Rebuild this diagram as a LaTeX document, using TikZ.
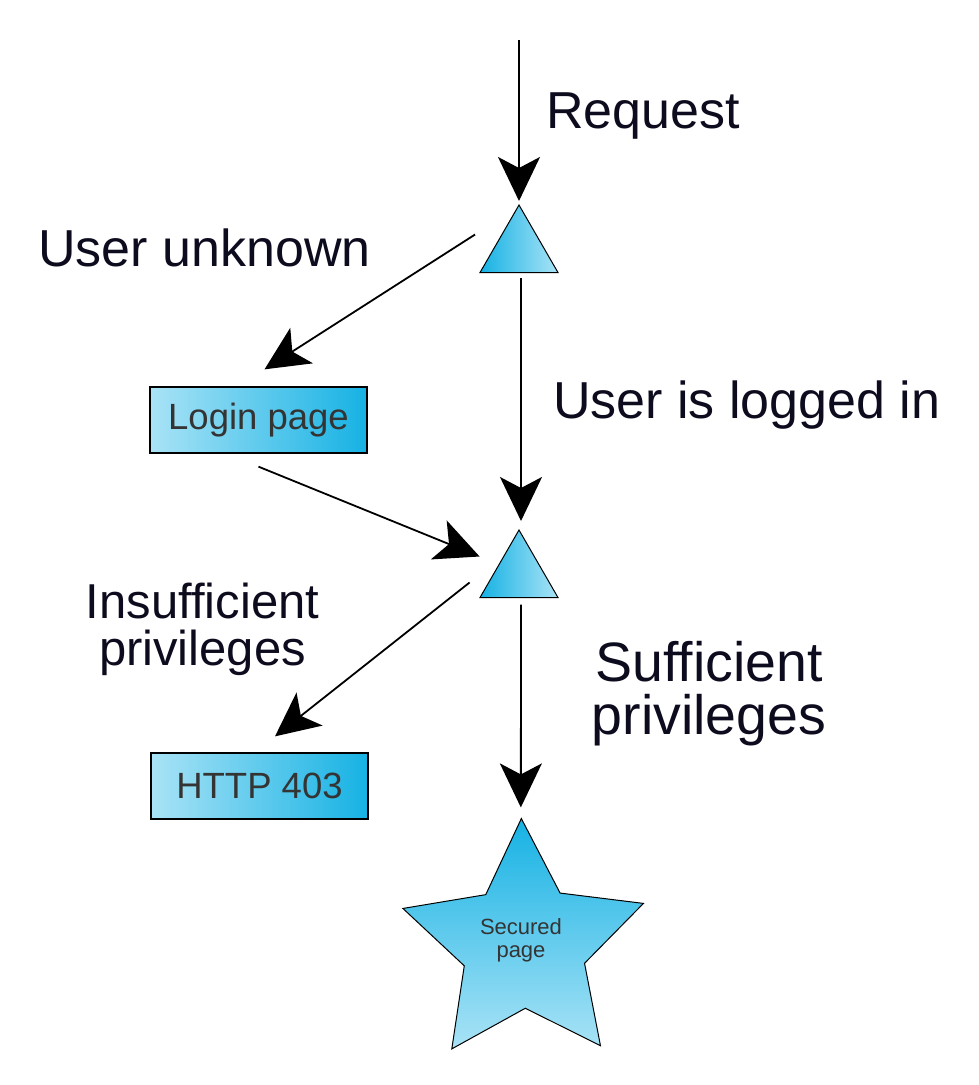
\documentclass[tikz,border=0pt]{standalone}
\usepackage{fontspec}
\setmainfont{Liberation Sans}
\usetikzlibrary{shapes.geometric,arrows.meta,calc}
\definecolor{cdark}{HTML}{16B2E4}
\definecolor{clight}{HTML}{A9E3F6}
\definecolor{ctext}{HTML}{0C0C1E}
\definecolor{cbox}{HTML}{343434}
\tikzset{
  arr/.style={line width=1.8pt, -{Stealth[length=44pt,width=42pt,inset=11pt]}},
  tri/.style={regular polygon, regular polygon sides=3, minimum size=90pt, inner sep=0pt, draw=black, line width=1pt, left color=cdark, right color=clight},
  pagebox/.style={rectangle, minimum width=217pt, minimum height=66pt, inner sep=0pt, draw=black, line width=1.3pt, left color=clight, right color=cdark, text=cbox, font=\fontsize{36.5}{40}\selectfont},
  lbl/.style={inner sep=0pt, text=ctext, font=\fontsize{52}{56}\selectfont},
}
\begin{document}
\begin{tikzpicture}[x=1pt,y=-1pt]
\useasboundingbox (0,0) rectangle (979,1085);
\coordinate (start) at (519,40);
\node[tri] (t1) at (519,250) {};
\node[tri] (t2) at (519,575) {};
\node[pagebox] (login) at (258.5,420) {Login page};
\node[pagebox] (http) at (259.5,786) {HTTP 403};
\node[star, star points=5, star point ratio=2, minimum size=253pt, inner sep=0pt, draw=black, line width=1pt, top color=cdark, bottom color=clight, shape border rotate=1.2] (secure) at (524,945) {};
\node[inner sep=0pt, text=cbox, align=center, font=\fontsize{22}{23}\selectfont] (securetext) at (521,940) {Secured\\page};

\node[lbl, anchor=base west] (lreq) at (546,128) {Request};
\node[lbl, anchor=base west] (lunk) at (38,266) {User unknown};
\node[lbl, anchor=base west] (llog) at (553,418) {User is logged in};
\node[lbl, align=center, font=\fontsize{49}{47}\selectfont] (lins) at (202.5,629) {Insufficient\\privileges};
\node[lbl, align=center, font=\fontsize{55.5}{53}\selectfont] (lsuf) at (709,694) {Sufficient\\privileges};

\draw[arr] (start) -- ([shift={(0,-3)}]t1.corner 1);
\draw[arr] ([shift={(-24,-4)}]t1.side 1) -- ([shift={(6,-17)}]login.north);
\draw[arr] ([shift={(2,5)}]t1.side 2) -- ([shift={(2,-8)}]t2.corner 1);
\draw[arr] ([shift={(0,13)}]login.south) -- ([shift={(-19.5,-7)}]t2.side 1);
\draw[arr] ([shift={(-29.5,19)}]t2.side 1) -- ([shift={(15.5,-16)}]http.north);
\draw[arr] ([shift={(2,6.5)}]t2.side 2) -- ([shift={(-0.5,-10)}]secure.outer point 1);
\end{tikzpicture}
\end{document}
